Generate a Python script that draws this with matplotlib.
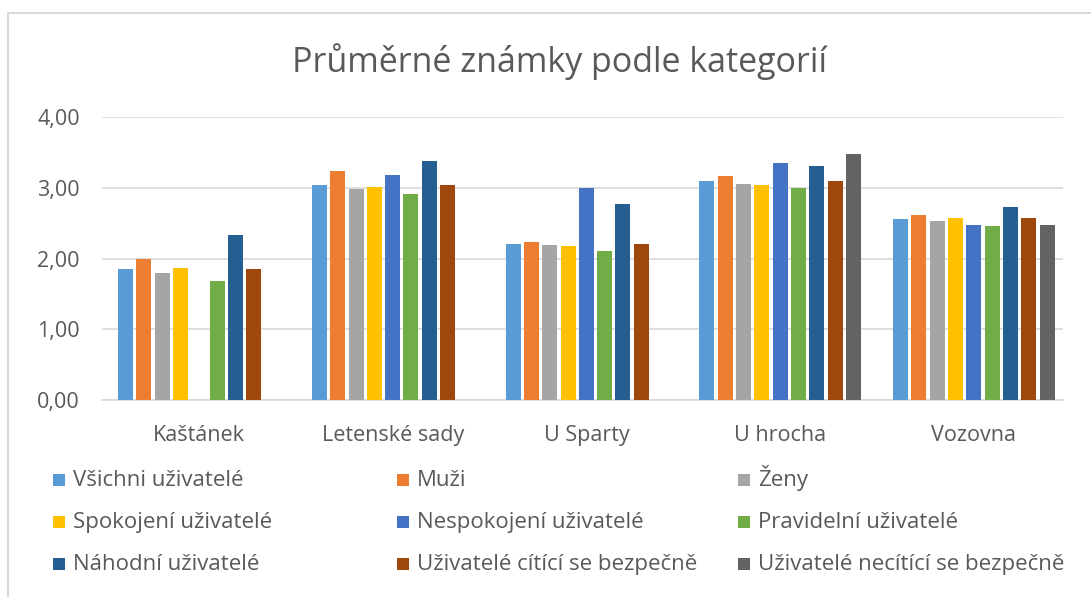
import numpy as np
import matplotlib
matplotlib.use('Agg')
import matplotlib.pyplot as plt
from matplotlib.lines import Line2D
from matplotlib.patches import Rectangle

# Data
categories = ['Kaštánek', 'Letenské sady', 'U Sparty', 'U hrocha', 'Vozovna']
series_names = [
    'Všichni uživatelé', 'Muži', 'Ženy',
    'Spokojení uživatelé', 'Nespokojení uživatelé', 'Pravidelní uživatelé',
    'Náhodní uživatelé', 'Uživatelé cítící se bezpečně', 'Uživatelé necítící se bezpečně',
]
vsichni = [1.85, 3.04, 2.20, 3.10, 2.56]
muzi = [2.00, 3.23, 2.24, 3.16, 2.61]
zeny = [1.79, 2.98, 2.19, 3.06, 2.53]
spokojeni = [1.86, 3.01, 2.17, 3.04, 2.57]
nespokojeni = [np.nan, 3.18, 2.99, 3.35, 2.47]
pravidelni = [1.68, 2.91, 2.11, 2.99, 2.46]
nahodni = [2.33, 3.38, 2.77, 3.31, 2.73]
bezpecne = [1.85, 3.04, 2.20, 3.09, 2.57]
nebezpecne = [np.nan, np.nan, np.nan, 3.48, 2.47]
values = [vsichni, muzi, zeny, spokojeni, nespokojeni, pravidelni,
          nahodni, bezpecne, nebezpecne]
yticks = [0, 1, 2, 3, 4]

colors = ['#5B9BD5', '#ED7D31', '#A5A5A5', '#FFC000', '#4472C4',
          '#70AD47', '#255E91', '#9E480E', '#636363']
text_color = '#595959'
grid_color = '#D9D9D9'

plt.rcParams['font.family'] = ['Open Sans', 'DejaVu Sans']

W, H = 1091, 597
fig = plt.figure(figsize=(W / 100, H / 100), dpi=100)
ax = fig.add_axes([102 / W, 1 - 400 / H, (1063 - 102) / W, (400 - 117) / H])

x = np.arange(len(categories))
slot = 0.0945
width = 0.0774
for j, (vals, c) in enumerate(zip(values, colors)):
    ax.bar(x + (j - 4) * slot, vals, width=width, color=c, zorder=3)

ax.set_ylim(0, 4)
ax.set_xlim(-0.5, 4.46)
ax.set_yticks(yticks)
ax.set_yticklabels([f'{v:.2f}'.replace('.', ',') for v in yticks])
ax.set_xticks(x)
ax.set_xticklabels(categories)
ax.tick_params(axis='both', length=0, colors=text_color, labelsize=15.5)
ax.tick_params(axis='y', pad=16)
ax.tick_params(axis='x', pad=18)
ax.grid(axis='y', color=grid_color, lw=1.2, zorder=0)
for s in ['top', 'right', 'left']:
    ax.spines[s].set_visible(False)
ax.spines['bottom'].set_color(grid_color)
ax.spines['bottom'].set_linewidth(1.2)

fig.text(560 / W, 1 - 62 / H, 'Průměrné známky podle kategorií',
         ha='center', va='center', fontsize=24.5, color=text_color)

# legend drawn by hand: three columns, row-major order
col_x = [53, 397, 738]
row_y = [480, 522, 564]
box = 12
for i, (name, c) in enumerate(zip(series_names, colors)):
    cx, ry = col_x[i % 3], row_y[i // 3]
    fig.add_artist(Rectangle((cx / W, 1 - (ry + box / 2) / H), box / W, box / H,
                             transform=fig.transFigure, facecolor=c, edgecolor='none'))
    fig.text((cx + box + 8) / W, 1 - (ry + 6) / H, name, ha='left', va='baseline',
             fontsize=16, color=text_color)

# chart border (cropped on the right and bottom)
fig.add_artist(Line2D([8 / W, 1], [1 - 13 / H, 1 - 13 / H], color=grid_color, lw=1.5))
fig.add_artist(Line2D([8 / W, 8 / W], [0, 1 - 13 / H], color=grid_color, lw=1.5))

fig.savefig('out.png', dpi=100)
